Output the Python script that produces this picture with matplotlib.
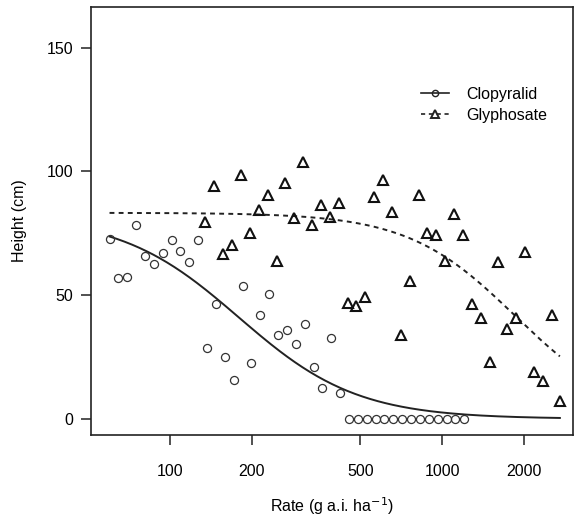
import numpy as np
import matplotlib
matplotlib.use("Agg")
import matplotlib.pyplot as plt
from matplotlib.lines import Line2D

plt.rcParams['font.family'] = ['Liberation Sans', 'DejaVu Sans']

# clopyralid rates (g a.i./ha) and plant heights (cm)
clop_rate = [60, 64.7, 69.7, 75.1, 81.0, 87.3, 94.1, 101.4, 109.3, 117.8,
             127.0, 136.9, 147.5, 159.0, 171.4, 184.7, 199.1, 214.6, 231.3, 249.3,
             268.7, 289.6, 312.2, 336.5, 362.7, 391.0, 421.4, 454.2, 489.6, 527.7,
             568.8, 613.1, 660.9, 712.4, 767.9, 827.7, 892.2, 961.7, 1036.6, 1117.3,
             1200]
clop_height = [72.7, 57.0, 57.4, 78.4, 65.9, 62.6, 67.2, 72.5, 67.8, 63.5,
               72.3, 28.5, 46.6, 25.1, 15.8, 53.8, 22.5, 41.9, 50.4, 33.7,
               35.8, 30.2, 38.5, 21.0, 12.3, 32.8, 10.4, 0, 0, 0,
               0, 0, 0, 0, 0, 0, 0, 0, 0, 0,
               0]

# glyphosate rates and heights
gly_rate = [135, 145.5, 156.9, 169.1, 182.3, 196.5, 211.8, 228.3, 246.1, 265.3,
            285.9, 308.2, 332.2, 358.1, 386.0, 416.1, 448.5, 483.4, 521.1, 561.7,
            605.5, 652.6, 703.5, 758.3, 817.3, 881.0, 949.7, 1023.7, 1103.4, 1189.4,
            1282.1, 1382.0, 1489.6, 1605.7, 1730.8, 1865.7, 2011.0, 2167.7, 2336.6, 2518.7,
            2700]
gly_height = [79.4, 94.2, 66.6, 70.2, 98.5, 75.3, 84.6, 90.6, 63.9, 95.3,
              81.0, 104.0, 78.4, 86.3, 81.7, 87.1, 46.8, 45.7, 49.2, 89.5,
              96.4, 83.7, 34.0, 55.9, 90.6, 75.1, 74.5, 63.9, 82.8, 74.5,
              46.5, 40.7, 23.0, 63.5, 36.4, 40.7, 67.5, 19.1, 15.1, 41.9,
              7.4]

# fitted log-logistic parameters: b, c, d, e
clop_fit = [2.0, 0.0, 82.0, 179.0]
gly_fit = [2.2, 0.0, 83.3, 1850.0]


def loglogistic(x, p):
    b, c, d, e = p
    return c + (d - c) / (1 + (x / e) ** b)


fig = plt.figure(figsize=(5.76, 5.19), dpi=100)
ax = fig.add_axes([0.158, 0.162, 0.837, 0.825])

col = '#222222'
xx = np.geomspace(60, 2700, 300)
ax.plot(xx, loglogistic(xx, clop_fit), color=col, lw=1.4)
ax.plot(xx, loglogistic(xx, gly_fit), color=col, lw=1.4, ls=(0, (2.5, 2.2)))

ax.plot(clop_rate, clop_height, 'o', ms=5.8, mfc='none', mec='#333333', mew=0.9)
ax.plot(gly_rate, gly_height, '^', ms=6.5, mfc='none', mec='#111111', mew=1.5)

ax.set_xscale('log')
ax.set_xlim(51.3, 3020)
ax.set_ylim(-6.5, 166.6)
ax.set_xticks([100, 200, 500, 1000, 2000])
ax.set_xticklabels(['100', '200', '500', '1000', '2000'])
ax.xaxis.set_minor_locator(matplotlib.ticker.NullLocator())
ax.set_yticks([0, 50, 100, 150])

for s in ax.spines.values():
    s.set_linewidth(1.2)
    s.set_color(col)
ax.tick_params(direction='out', length=7, width=1.1, color=col,
               labelsize=11.5, pad=6)
ax.tick_params(axis='x', pad=14)

ax.set_xlabel('Rate (g a.i. ha$^{-1}$)', fontsize=11.5, labelpad=12)
ax.set_ylabel('Height (cm)', fontsize=11.5, labelpad=14)

handles = [
    Line2D([], [], color=col, lw=1.2, marker='o', ms=4.5, mfc='none', mec=col),
    Line2D([], [], color=col, lw=1.2, ls=(0, (2.5, 2.2)), marker='^', ms=5.5,
           mfc='none', mec=col, mew=1.4),
]
ax.legend(handles, ['Clopyralid', 'Glyphosate'], loc='upper left',
          bbox_to_anchor=(0.654, 0.846), frameon=False, fontsize=11.5,
          handlelength=1.8, handletextpad=1.05, labelspacing=0.35)

fig.savefig('out.png', dpi=100)
